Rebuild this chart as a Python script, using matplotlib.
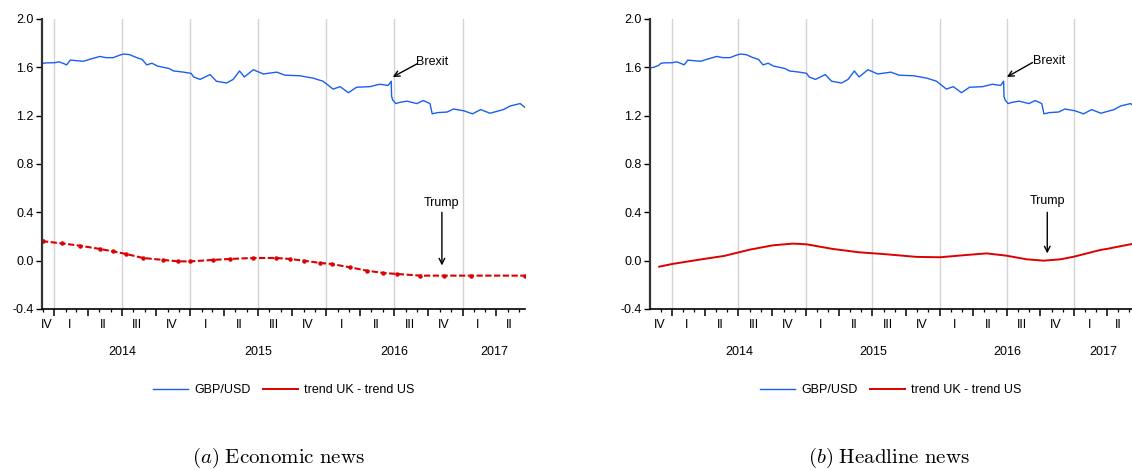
import matplotlib
matplotlib.use("Agg")
import matplotlib.pyplot as plt
import matplotlib.dates as mdates
import matplotlib.transforms as mtransforms
from matplotlib.lines import Line2D
import numpy as np
import pandas as pd

plt.rcParams['font.family'] = ['Liberation Sans', 'DejaVu Sans']
plt.rcParams['mathtext.fontset'] = 'cm'

# GBP/USD
gbp_dates = ['2013-11-02', '2013-11-12', '2013-11-25', '2013-12-02', '2013-12-13',
             '2014-01-01', '2014-01-14', '2014-01-27', '2014-02-03', '2014-02-13',
             '2014-03-01', '2014-03-20', '2014-04-10', '2014-05-03', '2014-05-20',
             '2014-06-08', '2014-06-25', '2014-07-06', '2014-07-22', '2014-08-10',
             '2014-08-25', '2014-09-06', '2014-09-20', '2014-10-05', '2014-10-21',
             '2014-11-05', '2014-11-17', '2014-12-01', '2014-12-14', '2015-01-03',
             '2015-01-10', '2015-01-27', '2015-02-23', '2015-03-12', '2015-04-08',
             '2015-04-26', '2015-05-13', '2015-05-26', '2015-06-19', '2015-07-16',
             '2015-08-21', '2015-09-12', '2015-10-22', '2015-11-27', '2015-12-23',
             '2016-01-19', '2016-02-07', '2016-02-29', '2016-03-22', '2016-04-27',
             '2016-05-23', '2016-06-15', '2016-06-23', '2016-06-24', '2016-06-27',
             '2016-07-05', '2016-07-16', '2016-08-04', '2016-08-31', '2016-09-17',
             '2016-10-05', '2016-10-11', '2016-10-25', '2016-11-20', '2016-12-07',
             '2017-01-04', '2017-01-27', '2017-02-18', '2017-03-15', '2017-04-20',
             '2017-05-08', '2017-06-04', '2017-06-16']
gbp_usd = [1.595, 1.600, 1.615, 1.634, 1.637,
           1.638, 1.645, 1.630, 1.620, 1.660,
           1.655, 1.650, 1.670, 1.690, 1.680,
           1.680, 1.700, 1.710, 1.705, 1.680,
           1.665, 1.620, 1.634, 1.610, 1.600,
           1.590, 1.570, 1.565, 1.560, 1.550,
           1.520, 1.500, 1.540, 1.485, 1.470,
           1.500, 1.570, 1.520, 1.580, 1.545,
           1.560, 1.535, 1.530, 1.510, 1.485,
           1.420, 1.440, 1.390, 1.435, 1.440,
           1.460, 1.450, 1.485, 1.360, 1.330,
           1.300, 1.310, 1.320, 1.300, 1.325,
           1.300, 1.215, 1.225, 1.230, 1.255,
           1.240, 1.215, 1.250, 1.220, 1.250,
           1.280, 1.300, 1.270]

# trend UK - trend US, economic news
econ_dates = ['2013-11-29', '2013-12-03', '2014-01-21', '2014-03-10', '2014-05-03',
              '2014-06-07', '2014-07-13', '2014-08-27', '2014-10-20', '2014-11-30',
              '2015-01-01', '2015-03-03', '2015-04-17', '2015-06-18', '2015-08-20',
              '2015-09-25', '2015-11-01', '2015-12-15', '2016-01-16', '2016-03-04',
              '2016-04-19', '2016-06-02', '2016-07-08', '2016-09-09', '2016-11-11',
              '2017-01-22', '2017-06-16']
econ_trend = [0.162, 0.160, 0.143, 0.124, 0.097,
              0.077, 0.055, 0.022, 0.006, -0.006,
              -0.006, 0.006, 0.014, 0.022, 0.022,
              0.014, 0.000, -0.019, -0.028, -0.055,
              -0.083, -0.102, -0.110, -0.124, -0.124,
              -0.124, -0.124]

# trend UK - trend US, headline news
head_dates = ['2013-11-27', '2014-01-01', '2014-03-16', '2014-05-23', '2014-08-01',
              '2014-10-03', '2014-11-27', '2015-01-03', '2015-03-15', '2015-05-26',
              '2015-07-30', '2015-10-30', '2016-01-02', '2016-03-14', '2016-05-08',
              '2016-07-01', '2016-08-25', '2016-10-10', '2016-11-25', '2017-01-01',
              '2017-03-13', '2017-03-31', '2017-06-08']
head_trend = [-0.050, -0.028, 0.008, 0.039, 0.091,
              0.127, 0.141, 0.135, 0.097, 0.069,
              0.055, 0.031, 0.028, 0.047, 0.060,
              0.041, 0.011, 0.000, 0.011, 0.033,
              0.088, 0.097, 0.138]

y_ticks = [-0.4, 0.0, 0.4, 0.8, 1.2, 1.6, 2.0]
quarter_names = ['I', 'II', 'III', 'IV']

BLUE = '#1a5ff0'
RED = '#dd0000'


def d(s):
    return mdates.date2num(pd.Timestamp(s))


def style_axis(ax, start, end):
    x0, x1 = d(start), d(end)
    ax.set_xlim(x0, x1)
    ax.set_ylim(-0.4, 2.0)
    ax.set_yticks(y_ticks)
    ax.set_yticklabels([f'{v:.1f}' for v in y_ticks], fontsize=9)
    for s in ['top', 'right']:
        ax.spines[s].set_visible(False)
    ax.spines['left'].set_linewidth(1.6)
    ax.spines['left'].set_color('#333333')
    ax.spines['bottom'].set_linewidth(1.2)
    ax.tick_params(axis='y', direction='out', length=4, width=1, pad=2)

    # month / quarter ticks
    months = pd.date_range('2013-01-01', '2018-01-01', freq='MS')
    quarters = [m for m in months if m.month in (1, 4, 7, 10)]
    ax.set_xticks([d(m) for m in quarters if x0 <= d(m) <= x1])
    ax.set_xticks([d(m) for m in months if x0 <= d(m) <= x1], minor=True)
    ax.set_xticklabels([])
    ax.tick_params(axis='x', which='major', direction='out', length=5, width=1.1)
    ax.tick_params(axis='x', which='minor', direction='out', length=2.5, width=0.9)

    # half-year grid
    for m in months:
        if m.month in (1, 7) and x0 < d(m) < x1:
            ax.axvline(d(m), color='#d3d3d3', lw=1.0, zorder=0)

    trans = mtransforms.blended_transform_factory(ax.transData, ax.transAxes)
    for q in quarters:
        qs = d(q)
        qe = d(q + pd.DateOffset(months=3))
        a, b = max(qs, x0), min(qe, x1)
        if b - a > 8:
            ax.text((a + b) / 2 - 4, -0.055, quarter_names[(q.month - 1) // 3]
                    if qs >= x0 else quarter_names[(q.month - 1) // 3],
                    transform=trans, ha='center', va='center', fontsize=9)
    for yr in range(2013, 2018):
        a = max(d(f'{yr}-01-01'), x0)
        b = min(d(f'{yr + 1}-01-01'), x1)
        if b - a > 100:
            ax.text((a + b) / 2, -0.148, str(yr), transform=trans,
                    ha='center', va='center', fontsize=9)


fig = plt.figure(figsize=(11.32, 4.70), dpi=100)
ax1 = fig.add_axes([0.0371, 0.3426, 0.4267, 0.617])
ax2 = fig.add_axes([0.5742, 0.3426, 0.4258, 0.617])

gx = pd.to_datetime(gbp_dates)

# (a) economic news
ax1.plot(gx, gbp_usd, color=BLUE, lw=1.0)
ax1.plot(pd.to_datetime(econ_dates), econ_trend, color=RED, lw=1.5,
         ls=(0, (3, 1.2)), marker='o', ms=2.2)
style_axis(ax1, '2013-11-29', '2017-06-17')

# (b) headline news
ax2.plot(gx, gbp_usd, color=BLUE, lw=1.0)
ax2.plot(pd.to_datetime(head_dates), head_trend, color=RED, lw=1.4)
style_axis(ax2, '2013-11-02', '2017-06-08')

arrow = dict(arrowstyle='->', color='black', lw=1.0, shrinkA=0, shrinkB=0)

ax1.annotate('', xy=(d('2016-06-27'), 1.52), xytext=(d('2016-09-01'), 1.63),
             arrowprops=arrow)
ax1.text(d('2016-10-12'), 1.64, 'Brexit', ha='center', va='center', fontsize=9)
ax1.annotate('', xy=(d('2016-11-06'), -0.04), xytext=(d('2016-11-06'), 0.40),
             arrowprops=arrow)
ax1.text(d('2016-11-06'), 0.48, 'Trump', ha='center', va='center', fontsize=9)

ax2.annotate('', xy=(d('2016-07-02'), 1.52), xytext=(d('2016-09-10'), 1.64),
             arrowprops=arrow)
ax2.text(d('2016-10-25'), 1.656, 'Brexit', ha='center', va='center', fontsize=9)
ax2.annotate('', xy=(d('2016-10-20'), 0.06), xytext=(d('2016-10-20'), 0.40),
             arrowprops=arrow)
ax2.text(d('2016-10-20'), 0.49, 'Trump', ha='center', va='center', fontsize=9)

handles = [Line2D([], [], color=BLUE, lw=1.0), Line2D([], [], color=RED, lw=1.4)]
labels = ['GBP/USD', 'trend UK - trend US']
for ax in (ax1, ax2):
    ax.legend(handles, labels, loc='center', bbox_to_anchor=(0.5, -0.279), ncol=2,
              frameon=False, fontsize=9, handlelength=2.8, columnspacing=1.0,
              handletextpad=0.5)

fig.text(0.2456, 0.0255, r'$(a)$ $\mathrm{Economic\ news}$', ha='center',
         va='center', fontsize=15)
fig.text(0.785, 0.0255, r'$(b)$ $\mathrm{Headline\ news}$', ha='center',
         va='center', fontsize=15)

fig.savefig('out.png', dpi=100)
